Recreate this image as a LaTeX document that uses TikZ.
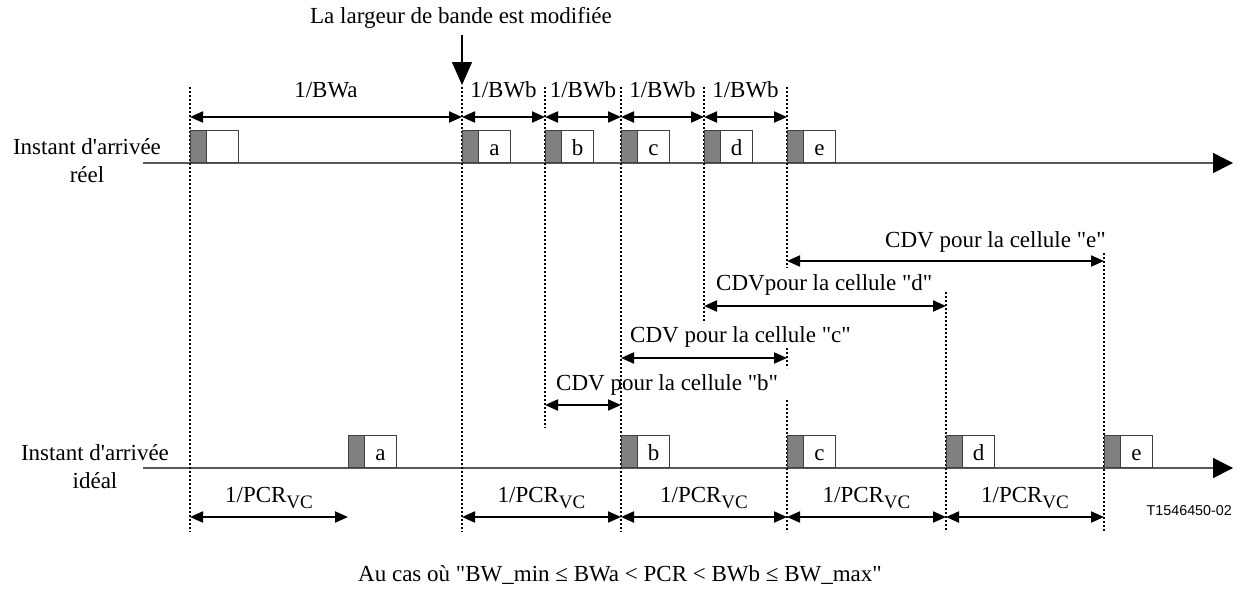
\documentclass[tikz,border=0pt]{standalone}
\usepackage{fontspec}
\setmainfont{Liberation Serif}
\newfontfamily\sansf{Liberation Sans}
\usetikzlibrary{arrows.meta,calc}
\newcommand{\dq}{\textquotedbl}
\newcommand{\sq}{\textquotesingle}
\begin{document}
\begin{tikzpicture}[x=1pt,y=-1pt,
  font=\fontsize{23}{28}\selectfont,
  dimarrow/.style={line width=2pt, {Triangle[length=13pt,width=11pt]}-{Triangle[length=13pt,width=11pt]}},
  vline/.style={line width=1.7pt, dash pattern=on 2pt off 2pt},
  axisline/.style={line width=1.5pt, draw=black!65, -{Triangle[length=20pt,width=20pt,color=black]}},
  graycell/.style={draw=black!75, fill=black!50, line width=1pt, minimum width=16pt, minimum height=32pt, inner sep=0pt, anchor=south west},
  whitecell/.style={draw=black!75, fill=white, line width=1pt, minimum width=32pt, minimum height=32pt, inner sep=0pt, anchor=south west, text height=18pt, text depth=0pt},
  lbl/.style={inner sep=0pt}
]
\useasboundingbox (0,0) rectangle (1239,600);

% ---------- title and change arrow
\node[lbl] (title) at (461,18) {La largeur de bande est modifi\'ee};
\coordinate (chgA) at (462,35);
\coordinate (chgB) at (462,85);
\draw[line width=1.3pt, -{Triangle[length=23pt,width=20pt]}] (chgA) -- (chgB);

% ---------- axes
\coordinate (ax1s) at (143,163);
\coordinate (ax1e) at (1233,163);
\coordinate (ax2s) at (143,468);
\coordinate (ax2e) at (1233,468);
\draw[axisline] (ax1s) -- (ax1e);
\draw[axisline] (ax2s) -- (ax2e);

\node[lbl, align=center] (lreal) at (87,161) {Instant d\sq arriv\'ee\\r\'eel};
\node[lbl, align=center] (lideal) at (95,467) {Instant d\sq arriv\'ee\\id\'eal};

% ---------- dotted vertical lines
\foreach \n/\x/\ya/\yb in {v0/190/87/532, v1/462/87/532, v2/545/87/428, v3/621/87/532,
    v4/704/87/323, v5/787/87/268, v5m/787/348/368, v6/787/400/532, v7/946/292/532, v8/1104/253/532}{
  \coordinate (\n t) at (\x,\ya);
  \coordinate (\n b) at (\x,\yb);
  \draw[vline] (\n t) -- (\n b);
}

% ---------- real arrival cells
\foreach \n/\x/\t in {r0/190/{}, r1/462/a, r2/545/b, r3/621/c, r4/704/d, r5/787/e}{
  \node[graycell] (\n g) at (\x,163) {};
  \node[whitecell] (\n w) at (\x+16,163) {\t};
}

% ---------- ideal arrival cells
\foreach \n/\x/\t in {i1/348/a, i2/621/b, i3/787/c, i4/946/d, i5/1104/e}{
  \node[graycell] (\n g) at (\x,468) {};
  \node[whitecell] (\n w) at (\x+16,468) {\t};
}

% ---------- top dimension arrows
\foreach \n/\xa/\xb/\t in {t0/190/462/{1/BWa}, t1/462/545/{1/BWb}, t2/545/621/{1/BWb}, t3/621/704/{1/BWb}, t4/704/787/{1/BWb}}{
  \coordinate (\n a) at (\xa,117);
  \coordinate (\n b) at (\xb,117);
  \draw[dimarrow] (\n a) -- (\n b);
  \node[lbl] (\n l) at ($(\n a)!0.5!(\n b)+(0,-27)$) {\t};
}

% ---------- bottom dimension arrows
\newcommand{\pcrtext}{1/PCR\raisebox{-0.28em}{\fontsize{19}{20}\selectfont VC}}
\foreach \n/\xa/\xb in {p0/190/348, p1/462/621, p2/621/787, p3/787/946, p4/946/1104}{
  \coordinate (\n a) at (\xa,517);
  \coordinate (\n b) at (\xb,517);
  \draw[dimarrow] (\n a) -- (\n b);
  \node[lbl] (\n l) at ($(\n a)!0.5!(\n b)+(0,-19)$) {\pcrtext};
}

% ---------- CDV arrows
\coordinate (cea) at (787,261); \coordinate (ceb) at (1104,261);
\coordinate (cda) at (704,306); \coordinate (cdb) at (946,306);
\coordinate (cca) at (621,358); \coordinate (ccb) at (787,358);
\coordinate (cba) at (545,405); \coordinate (cbb) at (621,405);
\draw[dimarrow] (cea) -- (ceb);
\draw[dimarrow] (cda) -- (cdb);
\draw[dimarrow] (cca) -- (ccb);
\draw[dimarrow] (cba) -- (cbb);
\node[lbl, anchor=east] (cel) at (1106,242) {CDV pour la cellule \dq e\dq};
\node[lbl, anchor=west] (cdl) at (716,285) {CDVpour la cellule \dq d\dq};
\node[lbl, anchor=west] (ccl) at (630,337) {CDV pour la cellule \dq c\dq};
\node[lbl, anchor=west] (cbl) at (556,385) {CDV pour la cellule \dq b\dq};

% ---------- reference and caption
\node[lbl, anchor=east, font=\sansf\fontsize{14.3}{16}\selectfont] (ref) at (1232,511) {T1546450-02};
\node[lbl] (cap) at (620,575) {Au cas o\`u \dq BW\_min ≤ BWa < PCR < BWb ≤ BW\_max\dq};
\end{tikzpicture}
\end{document}
